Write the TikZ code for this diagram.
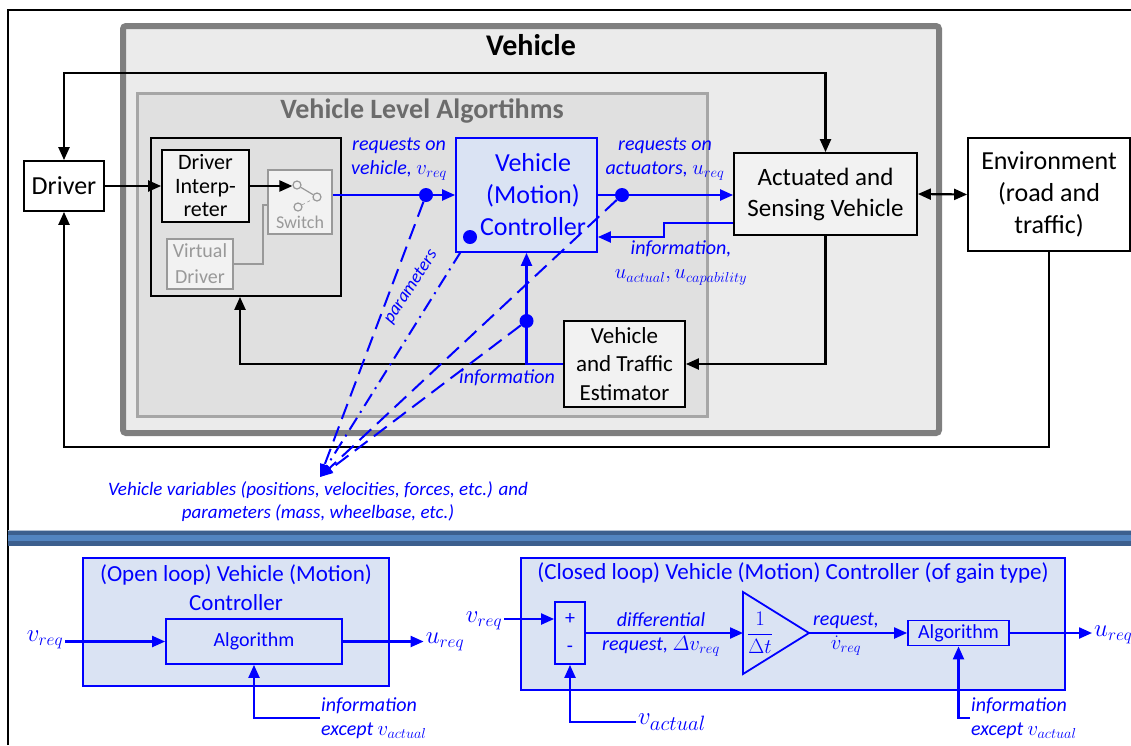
\documentclass[tikz,border=0pt]{standalone}
\usepackage{amsmath}
\usepackage{fontspec}
\setmainfont{Carlito}
\usepackage{xcolor}
\usepackage{tikz}
\usetikzlibrary{arrows.meta}

\definecolor{vehfill}{HTML}{EBEBEB}
\definecolor{vehedge}{HTML}{7F7F7F}
\definecolor{algfill}{HTML}{E0E0E0}
\definecolor{algedge}{HTML}{A6A6A6}
\definecolor{algtext}{HTML}{6B6B6B}
\definecolor{boxfill}{HTML}{F2F2F2}
\definecolor{ctrlfill}{HTML}{DAE3F3}
\definecolor{swgray}{HTML}{999999}
\definecolor{sepdark}{HTML}{3C5F8E}
\definecolor{seplight}{HTML}{5284C0}
\colorlet{sigblue}{blue}

\newcommand{\fsz}[2]{\fontsize{#1}{#2}\selectfont}

\tikzset{
    % block styles
    block/.style={draw, line width=1.8pt, fill=boxfill, align=center, inner sep=0pt, font=\fsz{25}{31}},
    whiteblock/.style={block, fill=white},
    greyblock/.style={block, draw=swgray, line width=1.4pt, text=swgray},
    ctrlblock/.style={block, draw=sigblue, fill=ctrlfill, text=sigblue},
    % connector styles
    conn/.style={line width=2.2pt, >={Triangle[length=13pt,width=11pt]}},
    bconn/.style={conn, draw=sigblue},
    bdash/.style={line width=2pt, draw=sigblue, dash pattern=on 16pt off 8pt, >={Triangle[length=13pt,width=9pt]}},
    bdashdot/.style={bdash, dash pattern=on 14pt off 6pt on 2pt off 6pt},
    sigdot/.style={circle, fill=sigblue, minimum size=14pt, inner sep=0pt},
    % label styles
    blabel/.style={text=sigblue, font=\fsz{20}{24}\itshape, align=center, inner sep=1pt},
    btext/.style={text=sigblue, font=\fsz{24}{28}, inner sep=2pt}
}

\begin{document}
\begin{tikzpicture}[x=1pt, y=-1pt]
    \useasboundingbox (0,0) rectangle (1131,745);

    % outer frame and separator
    \draw[line width=2pt] (8,745) -- (8,10) -- (1131,10);
    \fill[sepdark] (8,530) rectangle (1131,546);
    \fill[seplight] (8,535) rectangle (1131,541);
    \fill[sepdark!40] (8,530) rectangle (1131,531.2);

    % Vehicle
    \node[draw=vehedge, line width=6pt, fill=vehfill, rounded corners=3pt, minimum width=816pt, minimum height=407pt] (vehicle) at (531,229.5) {};
    \node[font=\fsz{30}{36}\bfseries] (vehtitle) at (531,45) {Vehicle};

    % Vehicle level algorithms
    \node[draw=algedge, line width=3pt, fill=algfill, minimum width=570pt, minimum height=323pt] (vla) at (422,254.5) {};
    \node[font=\fsz{28}{34}\bfseries, text=algtext] (vlatitle) at (422,111) {Vehicle Level Algortihms};

    % driver interpreter group
    \node[draw, line width=1.8pt, fill=algfill, minimum width=190pt, minimum height=158pt] (group) at (246,217) {};
    \node[block, minimum width=87pt, minimum height=72pt, font=\fsz{22}{23.5}] (interp) at (205.5,186) {Driver\\Interp-\\reter};
    \node[greyblock, minimum width=64pt, minimum height=64pt] (switch) at (300,202) {};
    \node[text=swgray, font=\fsz{18}{20}] (swtext) at (300,222) {Switch};
    \node[circle, draw=swgray, line width=1.2pt, minimum size=8pt, inner sep=0pt] (sa) at (297,185) {};
    \node[circle, draw=swgray, line width=1.2pt, minimum size=8pt, inner sep=0pt] (sb) at (317,197) {};
    \node[circle, draw=swgray, line width=1.2pt, minimum size=8pt, inner sep=0pt] (sc) at (298,207) {};
    \draw[swgray, line width=1.2pt] (sa) -- (sb);
    \draw[swgray, line width=0.6pt, dashed] (sc) -- (sb);
    \node[greyblock, minimum width=66pt, minimum height=50pt, font=\fsz{20}{26}] (virt) at (200,264) {Virtual\\Driver};

    % blocks
    \node[whiteblock, minimum width=80pt, minimum height=50pt, font=\fsz{26}{31}] (driver) at (64,186) {Driver};
    \node[ctrlblock, minimum width=141pt, minimum height=114pt, font=\fsz{26}{32}] (ctrl) at (526.5,195) {\hspace*{13pt}Vehicle\\\hspace*{13pt}(Motion)\\\hspace*{13pt}Controller};
    \node[block, minimum width=183pt, minimum height=82pt] (act) at (825.5,194) {Actuated and\\Sensing Vehicle};
    \node[whiteblock, minimum width=162pt, minimum height=113pt, font=\fsz{26}{32}] (env) at (1049,194.5) {Environment\\(road and\\traffic)};
    \node[block, minimum width=121pt, minimum height=86pt, font=\fsz{23}{28.5}] (est) at (624.5,364) {Vehicle\\and Traffic\\Estimator};

    % black connectors
    \coordinate (ctop) at (64,73);
    \coordinate (cbot) at (64,447);
    \coordinate (vbend) at (263,205);
    \draw[conn,<->] (driver.north) -- (ctop) -| (act.north);
    \draw[conn,->] (env.south) |- (cbot) -- (driver.south);
    \draw[conn,<->] (act.east) -- (env.west);
    \draw[conn,->] (driver.east) -- (interp.west);
    \draw[conn,->] (interp.east) -- (interp.east -| sa.west);
    \draw[swgray, line width=2pt] (virt.east) -| (vbend) -- (vbend -| switch.west);
    \draw[conn,->] (act.south) |- (est.east);
    \draw[conn,->] (est.west -| ctrl.south) -| ([xshift=-6pt]group.south);

    % blue signals
    \draw[bconn,->] (switch.east |- ctrl.west) -- (ctrl.west);
    \draw[bconn,->] (ctrl.east) -- (ctrl.east -| act.west);
    \draw[bconn,->] ([yshift=-29pt]act.west) -- ++(-69,0) -- ++(0,14) -- ([yshift=-42pt]ctrl.east);
    \draw[bconn,->] (est.west) -| (ctrl.south);

    % taps to vehicle variables
    \node[sigdot] (d1) at (426,195) {};
    \node[sigdot] (d2) at (622,195) {};
    \node[sigdot] (d3) at (470,237) {};
    \node[sigdot] (d4) at (526.5,321) {};
    \coordinate (vv) at (320,477);
    \draw[bdash,->] (d1) -- (vv);
    \draw[bdashdot,->, shorten <=10pt] (d3) -- (vv);
    \draw[bdash,->] (d2) -- (vv);
    \draw[bdash,->] (d4) -- (vv);

    % labels
    \node[blabel] (lreqv) at (399,159) {requests on\\vehicle, $v_{req}$};
    \node[blabel] (lrequ) at (665,159) {requests on\\actuators, $u_{req}$};
    \node[blabel] (linfo) at (681,263) {information,\\$u_{actual}, u_{capability}$};
    \node[blabel] (linfoest) at (507,378) {information};
    \node[blabel, rotate=57, font=\fsz{18}{20}\itshape] (lpar) at (411,287) {parameters};
    \node[blabel, font=\fsz{19}{23}\itshape] (lvv) at (318,502) {Vehicle variables (positions, velocities, forces, etc.) and\\parameters (mass, wheelbase, etc.)};

    % open loop controller
    \node[ctrlblock, minimum width=306pt, minimum height=128pt] (openbox) at (236,622) {};
    \node[btext, font=\fsz{23}{29}, align=center] (opentitle) at (236,588) {(Open loop) Vehicle (Motion)\\Controller};
    \node[ctrlblock, minimum width=176pt, minimum height=45pt, font=\fsz{20}{24}] (alg1) at (254,641.5) {Algorithm};
    \node[btext] (vreq1) at (45,640) {$v_{req}$};
    \node[btext] (ureq1) at (445,642) {$u_{req}$};
    \node[blabel, anchor=west, align=left] (info1) at (320,718) {information\\except $v_{actual}$};
    \draw[bconn,->] (vreq1.east |- alg1.west) -- (alg1.west);
    \draw[bconn,->] (alg1.east) -- (alg1.east -| ureq1.west);
    \draw[bconn,->] (info1.west) -| (alg1.south);

    % closed loop controller
    \node[ctrlblock, minimum width=544pt, minimum height=132pt] (closedbox) at (793,624) {};
    \node[btext, font=\fsz{23}{28}] (closedtitle) at (793,573) {(Closed loop) Vehicle (Motion) Controller (of gain type)};
    \node[ctrlblock, minimum width=30pt, minimum height=62pt, font=\fsz{20}{28}] (sum) at (570,633) {+\\-};
    \node[btext] (vreq2) at (484,621) {$v_{req}$};
    \node[btext, font=\fsz{28}{32}] (vact) at (672,722) {$v_{actual}$};
    \coordinate (gainin) at (743,633);
    \coordinate (gainout) at (809,633);
    \draw[sigblue, line width=1.8pt, fill=ctrlfill] (743,592) -- (gainout) -- (743,674) -- cycle;
    \node[btext, font=\fsz{22}{26}] (gaintxt) at (760,633) {$\dfrac{1}{\Delta t}$};
    \node[ctrlblock, minimum width=101pt, minimum height=25pt, font=\fsz{20}{24}] (alg2) at (958.5,633) {Algorithm};
    \node[btext, anchor=west] (ureq2) at (1092,635) {$u_{req}$};
    \node[blabel, anchor=west, align=left] (info2) at (970,718) {information\\except $v_{actual}$};
    \node[blabel] (ldiff) at (661,634) {differential\\request, $\varDelta v_{req}$};
    \node[blabel] (lvdot) at (846,634) {request,\\$\dot v_{req}$};
    \draw[bconn,->] ([yshift=14pt]sum.west -| vreq2.east) -- ([yshift=14pt]sum.west);
    \draw[bconn,->] (vact.west) -| (sum.south);
    \draw[bconn,->] (sum.east) -- (gainin);
    \draw[bconn,->] (gainout) -- (alg2.west);
    \draw[bconn,->] (alg2.east) -- (alg2.east -| ureq2.west);
    \draw[bconn,->] (info2.west) -| (alg2.south);
\end{tikzpicture}
\end{document}
